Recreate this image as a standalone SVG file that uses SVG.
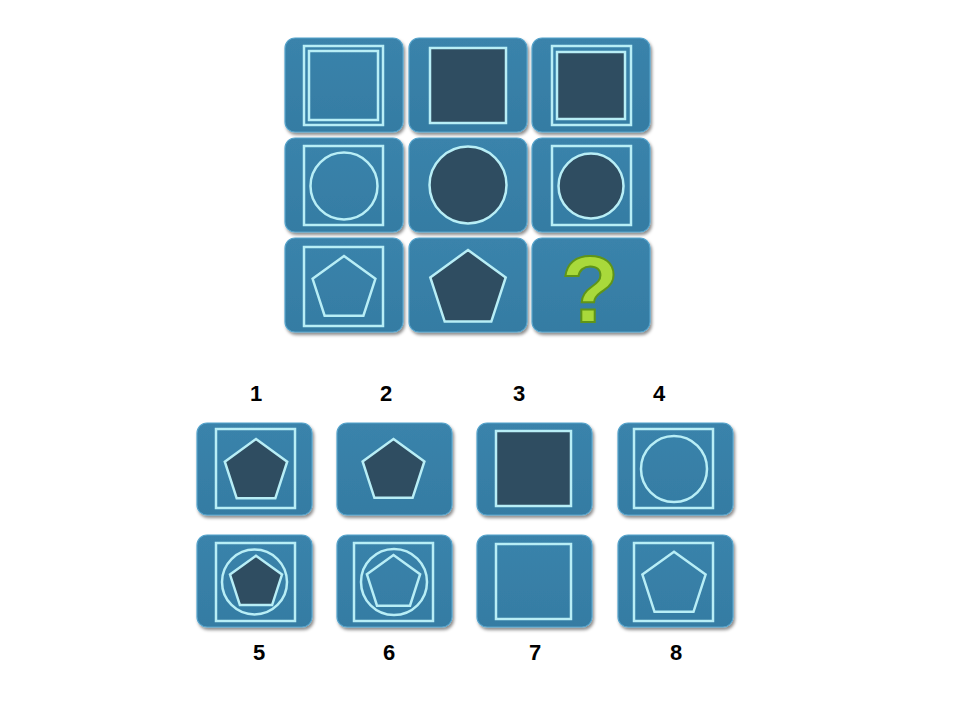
<svg xmlns="http://www.w3.org/2000/svg" width="960" height="720" viewBox="0 0 960 720">
<defs>
<filter id="sh" x="-10%" y="-10%" width="125%" height="130%">
<feDropShadow dx="1.5" dy="2.5" stdDeviation="1.5" flood-color="#000" flood-opacity="0.45"/>
</filter>
<linearGradient id="tg" x1="0" y1="0" x2="0" y2="1">
<stop offset="0" stop-color="#3a83ab"/>
<stop offset="1" stop-color="#357ca3"/>
</linearGradient>
</defs>
<style>
.tile{fill:url(#tg);stroke:#55a3cb;stroke-width:1.2;filter:url(#sh)}
.ln{fill:none;stroke:#b8eef6;stroke-width:2.5}
.dk{fill:#2f4d61;stroke:#b8eef6;stroke-width:2.5}
.lbl{font-family:"Liberation Sans",Arial,sans-serif;font-weight:bold;font-size:22px;fill:#000;text-anchor:middle}
</style>
<rect width="960" height="720" fill="#fff"/>
<g id="m11"><rect class="tile" x="285" y="38" width="118" height="94" rx="10"/><rect class="ln" x="304" y="46" width="79" height="79"/><rect class="ln" x="309" y="51" width="69" height="69"/></g>
<g id="m12"><rect class="tile" x="409" y="38" width="118" height="94" rx="10"/><rect class="dk" x="430" y="48" width="76" height="75"/></g>
<g id="m13"><rect class="tile" x="532" y="38" width="118" height="94" rx="10"/><rect class="ln" x="552" y="46" width="79" height="79"/><rect class="dk" x="557" y="52" width="68" height="67"/></g>
<g id="m21"><rect class="tile" x="285" y="138" width="118" height="94" rx="10"/><rect class="ln" x="304" y="146" width="79" height="79"/><circle class="ln" cx="344" cy="186" r="33.5"/></g>
<g id="m22"><rect class="tile" x="409" y="138" width="118" height="94" rx="10"/><circle class="dk" cx="468" cy="185" r="38.5"/></g>
<g id="m23"><rect class="tile" x="532" y="138" width="118" height="94" rx="10"/><rect class="ln" x="552" y="146" width="79" height="79"/><circle class="dk" cx="591" cy="186" r="32.5"/></g>
<g id="m31"><rect class="tile" x="285" y="238" width="118" height="94" rx="10"/><rect class="ln" x="304" y="247" width="79" height="79"/><polygon class="ln" points="344,256 375.4,278.8 363.4,315.7 324.6,315.7 312.6,278.8"/></g>
<g id="m32"><rect class="tile" x="409" y="238" width="118" height="94" rx="10"/><polygon class="dk" points="468,250 505.7,277.4 491.3,321.6 444.7,321.6 430.3,277.4"/></g>
<g id="m33"><rect class="tile" x="532" y="238" width="118" height="94" rx="10"/><text x="590" y="322" font-family="Liberation Sans, Arial, sans-serif" font-weight="bold" font-size="95" text-anchor="middle" fill="#a9d93b" stroke="#5f9418" stroke-width="2">?</text></g>
<g id="a1"><rect class="tile" x="197" y="423" width="115" height="92" rx="10"/><rect class="ln" x="216" y="429" width="79" height="79"/><polygon class="dk" points="256,439 287.2,461.7 275.3,498.3 236.7,498.3 224.8,461.7"/></g>
<g id="a2"><rect class="tile" x="337" y="423" width="115" height="92" rx="10"/><polygon class="dk" points="393.5,439 424.4,461.5 412.6,497.8 374.4,497.8 362.6,461.5"/></g>
<g id="a3"><rect class="tile" x="477" y="423" width="115" height="92" rx="10"/><rect class="dk" x="496" y="431" width="75" height="75"/></g>
<g id="a4"><rect class="tile" x="618" y="423" width="115" height="92" rx="10"/><rect class="ln" x="634" y="429" width="79" height="79"/><circle class="ln" cx="674" cy="469" r="33"/></g>
<g id="a5"><rect class="tile" x="197" y="535" width="115" height="92" rx="10"/><rect class="ln" x="216" y="543" width="79" height="78"/><circle class="ln" cx="254.5" cy="582" r="32.5"/><polygon class="dk" points="256,555.7 282,574.6 272.1,605.1 239.9,605.1 230,574.6"/></g>
<g id="a6"><rect class="tile" x="337" y="535" width="115" height="92" rx="10"/><rect class="ln" x="354" y="543" width="79" height="78"/><circle class="ln" cx="394" cy="582" r="33"/><polygon class="ln" points="393.5,555 420.1,574.3 410,605.7 377,605.7 366.9,574.3"/></g>
<g id="a7"><rect class="tile" x="477" y="535" width="115" height="92" rx="10"/><rect class="ln" x="496" y="544" width="75" height="75"/></g>
<g id="a8"><rect class="tile" x="618" y="535" width="115" height="92" rx="10"/><rect class="ln" x="634" y="543" width="79" height="78"/><polygon class="ln" points="674,551.7 705.6,574.6 693.5,611.8 654.5,611.8 642.4,574.6"/></g>
<g id="labels">
<text class="lbl" x="256" y="401">1</text>
<text class="lbl" x="386" y="401">2</text>
<text class="lbl" x="519" y="401">3</text>
<text class="lbl" x="659" y="401">4</text>
<text class="lbl" x="259" y="660">5</text>
<text class="lbl" x="389" y="660">6</text>
<text class="lbl" x="535" y="660">7</text>
<text class="lbl" x="676" y="660">8</text>
</g>
<g id="connectors"/>
</svg>
